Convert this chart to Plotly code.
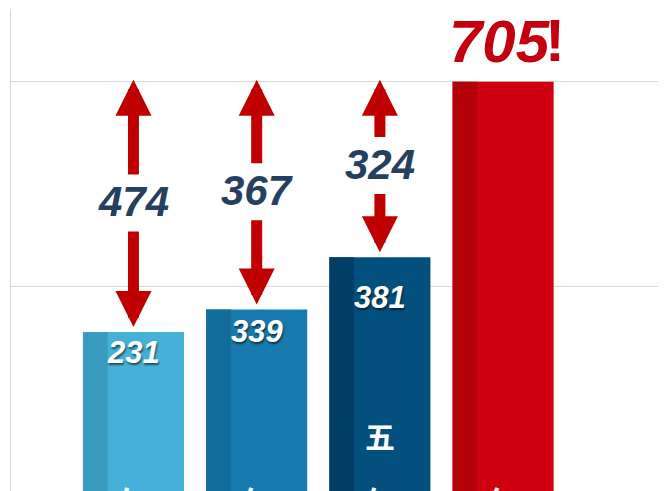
import plotly.graph_objects as go

# ---- data ----
values = [231, 339, 381, 705]            # labels shown on / above the bars
differences = [474, 367, 324]            # gap between each bar and the last one
bar_heights = [356, 378, 429, 600]       # visual bar tops, read against the gridlines
grid_values = [400, 600]                 # the two visible gridlines
upper_chars = ["", "", "五", ""]
lower_chars = ["年", "年", "年", "年"]

main_colors = ["#45B0D8", "#167AAE", "#034F7D", "#CF0010"]
edge_colors = ["#3A9BC0", "#136D9B", "#023F66", "#B30008"]
arrow_color = "#C00000"
diff_color = "#25405F"
top_color = "#C4000E"

FONT = "Liberation Sans, Arial, sans-serif"
CJK = "Noto Sans CJK SC, sans-serif"

# page body has an 8px default margin, so the figure is sized to end at the window edge
W, H = 658, 483
M = dict(l=3, r=0, t=1, b=0)
y_range = [201, 671]
x_range = [-0.994, 4.322]
k = (H - M["t"] - M["b"]) / (y_range[1] - y_range[0])   # px per data unit

x = list(range(len(values)))

fig = go.Figure()
fig.add_bar(x=x, y=bar_heights, width=0.82,
            marker=dict(color=main_colors, line=dict(width=0)), hoverinfo="skip")
fig.add_bar(x=x, y=bar_heights, width=0.2, offset=-0.41,
            marker=dict(color=edge_colors, line=dict(width=0)), hoverinfo="skip")

ann = []
shadow = "1px 2px 2px rgba(0,0,0,0.55)"
value_drop = [20, 22, 40]
for i in range(3):
    ann.append(dict(x=x[i], y=bar_heights[i], xref="x", yref="y", text=str(values[i]),
                    showarrow=False, yanchor="middle", yshift=-value_drop[i],
                    font=dict(family=FONT, size=31, color="white", weight="bold",
                              style="italic", shadow=shadow)))

# top value
ann.append(dict(x=x[3], y=bar_heights[3], xref="x", yref="y", text=str(values[3]),
                showarrow=False, yanchor="middle", yshift=40, xshift=-3,
                font=dict(family=FONT, size=60, color=top_color, weight="bold", style="italic")))
ann.append(dict(x=x[3], y=bar_heights[3], xref="x", yref="y", text="!",
                showarrow=False, yanchor="middle", yshift=41, xshift=52,
                font=dict(family=FONT, size=60, color=top_color, weight="bold")))

top = bar_heights[3]
for i, d in enumerate(differences):
    mid = (top + bar_heights[i]) / 2
    ann.append(dict(x=x[i], y=mid, xref="x", yref="y", text=str(d), showarrow=False,
                    yanchor="middle", yshift=5,
                    font=dict(family=FONT, size=42, color=diff_color, weight="bold",
                              style="italic")))
    # up arrow
    ann.append(dict(x=x[i], y=top + 2 / k, xref="x", yref="y", text="",
                    ax=x[i], ay=mid + (4 + 27) / k, axref="x", ayref="y",
                    showarrow=True, arrowhead=2, arrowsize=0.655, arrowwidth=11,
                    arrowcolor=arrow_color))
    # down arrow
    ann.append(dict(x=x[i], y=bar_heights[i], xref="x", yref="y", text="",
                    ax=x[i], ay=mid + (4 - 27) / k, axref="x", ayref="y",
                    showarrow=True, arrowhead=2, arrowsize=0.655, arrowwidth=11,
                    arrowcolor=arrow_color, standoff=5))

for i in range(len(values)):
    if upper_chars[i]:
        ann.append(dict(x=x[i], y=0, xref="x", yref="paper", text=upper_chars[i],
                        showarrow=False, yanchor="middle", yshift=56,
                        font=dict(family=CJK, size=30, color="white", weight="bold")))
    ann.append(dict(x=x[i], y=0, xref="x", yref="paper", text=lower_chars[i],
                    showarrow=False, yanchor="middle", yshift=-9,
                    font=dict(family=CJK, size=30, color="white", weight="bold")))

fig.update_layout(
    width=W, height=H, margin=M,
    barmode="overlay", showlegend=False,
    paper_bgcolor="white", plot_bgcolor="white",
    xaxis=dict(range=x_range, showgrid=False, showticklabels=False, zeroline=False,
               showline=False, ticks=""),
    yaxis=dict(range=y_range, tickvals=grid_values, showticklabels=False, ticks="",
               showgrid=True, gridcolor="#D9D9D9", gridwidth=1, zeroline=False,
               showline=True, linecolor="#D9D9D9", linewidth=1),
    annotations=ann,
)

fig.write_html("out.html", config={"displayModeBar": False})
